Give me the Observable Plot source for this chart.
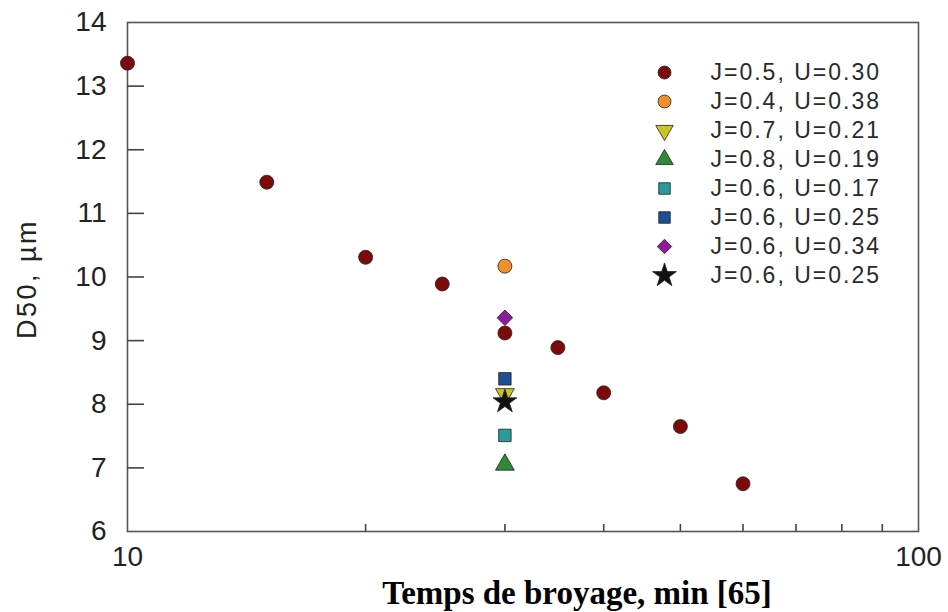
<!DOCTYPE html>
<html>
<head>
<meta charset="utf-8">
<script src="https://cdn.jsdelivr.net/npm/d3@7"></script>
<script src="https://cdn.jsdelivr.net/npm/@observablehq/plot@0.6"></script>
<style>
  html, body { margin: 0; padding: 0; background: #fff; }
  #wrap { position: relative; width: 948px; height: 612px; font-family: "Liberation Sans", Arial, sans-serif; }
  #legend { position: absolute; left: 640px; top: 55px; }
  #legend svg text { letter-spacing: 2px; }
  #main svg g[aria-label="text"] text { letter-spacing: 2.5px; }
  #main svg g.xlab text { letter-spacing: 0; }
</style>
</head>
<body>
<div id="wrap"><div id="main"></div><div id="legend"></div></div>
<script>
// ---- data ----
const seriesLabels = ["J=0.5, U=0.30", "J=0.4, U=0.38", "J=0.7, U=0.21", "J=0.8, U=0.19",
                      "J=0.6, U=0.17", "J=0.6, U=0.25", "J=0.6, U=0.34", "J=0.6, U=0.25"];
const seriesColors = ["#7d0a0a", "#f0902a", "#c9c71f", "#2f8a35", "#2a9a9a", "#1d4f94", "#8e1a9e", "#111111"];
const seriesSymbols = ["circle", "circle", "triangle", "triangle", "square", "square", "diamond2", "star"];
const seriesRotate = [0, 0, 180, 0, 0, 0, 0, 0];

// series 0 (J=0.5, U=0.30): grinding time vs D50
const redX = [10, 15, 20, 25, 30, 35, 40, 50, 60];
const redY = [13.36, 11.49, 10.31, 9.89, 9.12, 8.89, 8.18, 7.65, 6.75];
// series 1..7, all at 30 min
const otherX = [30, 30, 30, 30, 30, 30, 30];
const otherY = [10.17, 8.16, 7.05, 7.51, 8.40, 9.36, 8.04];

const yTickValues = [6, 7, 8, 9, 10, 11, 12, 13, 14];
const yMinorTicks = [7, 8, 9, 10, 11, 12, 13];
const xTickLabels = [10, 100];
const xMinorTicks = [20, 30, 40, 50, 60, 70, 80, 90];
const xLabel = "Temps de broyage, min [65]";
const yLabel = "D50, \u00b5m";

// ---- build ----
const redData = redX.map((x, i) => ({x, y: redY[i], s: 0}));
const otherData = otherX.map((x, i) => ({x, y: otherY[i], s: i + 1}));
const behind = otherData.filter(d => d.s !== 7);
const front = otherData.filter(d => d.s === 7);

const W = 948, H = 612, mL = 127, mR = 30, mT = 22, mB = 81;
const fw = W - mL - mR, fh = H - mT - mB;

function dots(data, r) {
  return Plot.dot(data, {
    x: "x", y: "y",
    symbol: d => seriesSymbols[d.s],
    fill: d => seriesColors[d.s],
    rotate: d => seriesRotate[d.s],
    stroke: "#222", strokeWidth: 0.8,
    r
  });
}

const main = Plot.plot({
  width: W, height: H,
  marginLeft: mL, marginRight: mR, marginTop: mT, marginBottom: mB,
  style: {fontFamily: "Liberation Sans, Arial, sans-serif", background: "#fff", overflow: "visible"},
  x: {type: "log", domain: [10, 100]},
  y: {domain: [6, 14]},
  color: {type: "identity"},
  symbol: {type: "identity"},
  marks: [
    Plot.frame({stroke: "#555", strokeWidth: 1.6}),
    Plot.tickY(yMinorTicks, {y: d => d, stroke: "#444", strokeWidth: 1.6, insetRight: fw - 17}),
    Plot.tickX(xMinorTicks, {x: d => d, stroke: "#444", strokeWidth: 1.6, insetTop: fh - 7}),
    Plot.axisY(yTickValues, {tickSize: 0, tickPadding: 21, fontSize: 28, color: "#222", label: null, tickFormat: d => String(d)}),
    Plot.axisX(xTickLabels, {tickSize: 0, tickPadding: 15, fontSize: 28, color: "#222", label: null, tickFormat: d => String(d)}),
    Plot.text([yLabel], {text: d => d, frameAnchor: "left", textAnchor: "middle", lineAnchor: "middle",
      dx: -100, dy: 2, rotate: -90,
      fontSize: 27, fill: "#222", fontFamily: "Liberation Sans, Arial, sans-serif"}),
    Plot.text([xLabel], {text: d => d, frameAnchor: "bottom", textAnchor: "middle", lineAnchor: "middle",
      dx: 54, dy: 62,
      fontSize: 33, fontWeight: "bold", fill: "#000", fontFamily: "Liberation Serif, Times New Roman, serif"}),
    dots(behind, 7),
    dots(redData, 7),
    dots(front, 7.5)
  ]
});
document.getElementById("main").appendChild(main);
// the x label keeps normal spacing
const textGroups = main.querySelectorAll('g[aria-label="text"]');
if (textGroups.length > 1) textGroups[textGroups.length - 1].classList.add("xlab");

const legendRows = seriesLabels.map((label, i) => ({i, label}));
const legendDots = (rows, r) => Plot.dot(rows, {y: "i", frameAnchor: "left", dx: 24,
  symbol: d => seriesSymbols[d.i], fill: d => seriesColors[d.i], rotate: d => seriesRotate[d.i],
  stroke: "#222", strokeWidth: 0.8, r});
const legend = Plot.plot({
  width: 290, height: 235,
  marginLeft: 0, marginRight: 0, marginTop: 16, marginBottom: 14,
  style: {fontFamily: "Liberation Sans, Arial, sans-serif", background: "transparent"},
  y: {type: "point", domain: d3.range(seriesLabels.length), axis: null, padding: 0},
  color: {type: "identity"},
  symbol: {type: "identity"},
  marks: [
    legendDots(legendRows.filter(d => d.i !== 7), 6.5),
    legendDots(legendRows.filter(d => d.i === 7), 7.5),
    Plot.text(legendRows, {y: "i", text: "label", frameAnchor: "left", dx: 70, textAnchor: "start",
      fontSize: 23, fill: "#2a2a2a"})
  ]
});
document.getElementById("legend").appendChild(legend);
</script>
</body>
</html>
